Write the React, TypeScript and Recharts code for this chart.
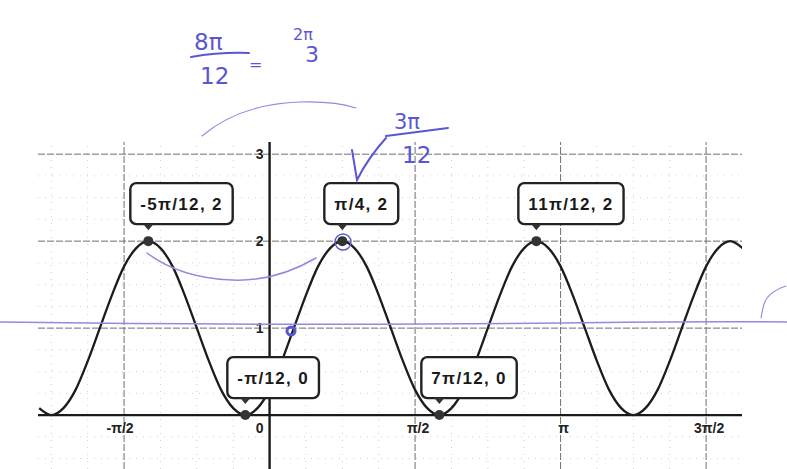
import React from "react";
import {
  ComposedChart,
  Line,
  Scatter,
  XAxis,
  YAxis,
  ReferenceLine,
} from "recharts";

// curve samples: x in steps of π/24, y
const curveFirstStep = -19;
const curveValues = [
  0.08, 0, 0.08, 0.29, 0.62, 1, 1.38, 1.71, 1.92, 2,
  1.92, 1.71, 1.38, 1, 0.62, 0.29, 0.08, 0,
  0.08, 0.29, 0.62, 1, 1.38, 1.71, 1.92, 2,
  1.92, 1.71, 1.38, 1, 0.62, 0.29, 0.08, 0,
  0.08, 0.29, 0.62, 1, 1.38, 1.71, 1.92, 2,
  1.92, 1.71, 1.38, 1, 0.62, 0.29, 0.08, 0,
  0.08, 0.29, 0.62, 1, 1.38, 1.71, 1.92, 2,
  1.92,
];

// labelled points, x in steps of π/12
const pointSteps = [-5, 3, 11, -1, 7];
const pointValues = [2, 2, 2, 0, 0];
const pointLabels = ["-5π/12, 2", "π/4, 2", "11π/12, 2", "-π/12, 0", "7π/12, 0"];

// axis ticks, x in steps of π/2
const xTickSteps = [-1, 0, 1, 2, 3];
const xTickLabels = ["-π/2", "0", "π/2", "π", "3π/2"];
const yTickValues = [1, 2, 3];

const PI = Math.PI;
const X_MIN = -2.5;
const X_MAX = 5.1;
const Y_MIN = -0.62;
const Y_MAX = 3.14;

const curveData = curveValues.map((y, i) => ({ x: ((curveFirstStep + i) * PI) / 24, y }));
const pointData = pointSteps.map((s, i) => ({
  x: (s * PI) / 12,
  y: pointValues[i],
  label: pointLabels[i],
}));
const xTickData = xTickSteps.map((s, i) => ({ x: (s * PI) / 2, y: 0, label: xTickLabels[i] }));
const yTickData = yTickValues.map((v) => ({ x: 0, y: v, label: String(v) }));

const minorX: number[] = [];
for (let k = -8; k <= 16; k++) if (k % 4 !== 0) minorX.push((k * PI) / 8);
const majorX = [-PI / 2, PI / 2, PI, (3 * PI) / 2];
const minorY: number[] = [];
for (let k = -2; k <= 12; k++) if (k % 4 !== 0) minorY.push(k / 4);
const majorY = [1, 2, 3];

const LABEL_FONT = "'Liberation Sans', Arial, sans-serif";
const LABEL_SIZE = 17;
const LABEL_SPACING = 1.3;

let measureCtx: CanvasRenderingContext2D | null = null;
function textWidth(s: string) {
  if (!measureCtx) measureCtx = document.createElement("canvas").getContext("2d");
  if (!measureCtx) return s.length * 10;
  measureCtx.font = `bold ${LABEL_SIZE}px ${LABEL_FONT}`;
  return measureCtx.measureText(s).width + LABEL_SPACING * s.length;
}

function PointWithLabel(props: any) {
  const { cx, cy, payload } = props;
  const w = textWidth(payload.label) + 20;
  const h = 41;
  const left = cx - 18;
  const bottom = cy - 17;
  return (
    <g>
      <circle cx={cx} cy={cy} r={5} fill="#333" />
      <rect
        x={left}
        y={bottom - h}
        width={w}
        height={h}
        rx={6}
        fill="#fff"
        stroke="#222"
        strokeWidth={2.4}
      />
      <path d={`M${cx - 5},${bottom} L${cx + 5},${bottom} L${cx},${bottom + 6} Z`} fill="#333" />
      <text
        x={left + 10}
        y={bottom - h / 2 + 6}
        fontFamily={LABEL_FONT}
        fontSize={LABEL_SIZE}
        fontWeight="bold"
        letterSpacing={LABEL_SPACING}
        fill="#1a1a1a"
      >
        {payload.label}
      </text>
    </g>
  );
}

function XTick(props: any) {
  const { cx, cy, payload } = props;
  const dx = payload.label === "0" ? -10 : payload.label === "-π/2" ? -4 : 3;
  return (
    <text
      x={cx + dx}
      y={cy + 18}
      textAnchor="middle"
      fontFamily={LABEL_FONT}
      fontSize={14}
      fontWeight="bold"
      fill="#222"
    >
      {payload.label}
    </text>
  );
}

function YTick(props: any) {
  const { cx, cy, payload } = props;
  return (
    <text
      x={cx - 6}
      y={cy + 5}
      textAnchor="end"
      fontFamily={LABEL_FONT}
      fontSize={14}
      fontWeight="bold"
      fill="#222"
    >
      {payload.label}
    </text>
  );
}

const INK = "#5b57d2";
const INK_LIGHT = "#8f8cdf";

// pen notes written over the printed graph
function PenNotes() {
  const hand = "'DejaVu Sans', sans-serif";
  return (
    <svg width={787} height={469} style={{ position: "absolute", left: 0, top: 0, pointerEvents: "none" }}>
      <g fill={INK} fontFamily={hand}>
        <text x={194} y={50} fontSize={23}>8π</text>
        <text x={200} y={84} fontSize={23}>12</text>
        <text x={249} y={70} fontSize={16}>=</text>
        <text x={293} y={40} fontSize={16}>2π</text>
        <text x={305} y={62} fontSize={22}>3</text>
        <text x={394} y={129} fontSize={21}>3π</text>
        <text x={402} y={163} fontSize={23}>12</text>
      </g>
      <g fill="none" stroke={INK} strokeWidth={2} strokeLinecap="round">
        <path d="M191,57 Q220,52 249,53" />
        <path d="M386,136 Q416,132 448,128" />
        <path d="M352,150 Q355,168 357,180 Q368,158 386,138" />
        <circle cx={343} cy={242} r={8} strokeWidth={1.4} />
        <circle cx={291} cy={331} r={4} strokeWidth={3} />
      </g>
      <g fill="none" stroke={INK_LIGHT} strokeWidth={1.5} strokeLinecap="round">
        <path d="M202,136 Q240,104 300,102 Q335,101 356,108" strokeWidth={1.1} />
        <path d="M147,253 Q180,278 232,280 Q275,282 316,258" />
        <path d="M0,322 Q300,326 560,323 Q700,321 787,322" />
        <path d="M786,286 Q768,292 764,304 Q762,312 761,318" strokeWidth={1.1} />
      </g>
    </svg>
  );
}

export default function App() {
  return (
    <div style={{ position: "absolute", left: 0, top: 0, width: 787, height: 469, background: "#fff" }}>
      <ComposedChart
        width={787}
        height={469}
        margin={{ top: 142, right: 45, bottom: 0, left: 38 }}
      >
        <XAxis type="number" dataKey="x" domain={[X_MIN, X_MAX]} hide allowDataOverflow />
        <YAxis type="number" dataKey="y" domain={[Y_MIN, Y_MAX]} hide allowDataOverflow />

        {minorX.map((v) => (
          <ReferenceLine key={`mx${v}`} x={v} stroke="#cfcfcf" strokeDasharray="1 6" />
        ))}
        {minorY.map((v) => (
          <ReferenceLine key={`my${v}`} y={v} stroke="#cfcfcf" strokeDasharray="1 6" />
        ))}
        {majorX.map((v) => (
          <ReferenceLine key={`MX${v}`} x={v} stroke="#6f6f6f" strokeDasharray="7 2" />
        ))}
        {majorY.map((v) => (
          <ReferenceLine key={`MY${v}`} y={v} stroke="#6f6f6f" strokeDasharray="7 2" />
        ))}
        <ReferenceLine y={0} stroke="#1a1a1a" strokeWidth={2.4} />
        <ReferenceLine x={0} stroke="#1a1a1a" strokeWidth={2.4} />

        <Line
          data={curveData}
          dataKey="y"
          type="monotone"
          stroke="#1c1c1c"
          strokeWidth={2.3}
          dot={false}
          isAnimationActive={false}
        />
        <Scatter data={xTickData} shape={<XTick />} isAnimationActive={false} />
        <Scatter data={yTickData} shape={<YTick />} isAnimationActive={false} />
        <Scatter data={pointData} shape={<PointWithLabel />} isAnimationActive={false} />
      </ComposedChart>
      <PenNotes />
    </div>
  );
}
